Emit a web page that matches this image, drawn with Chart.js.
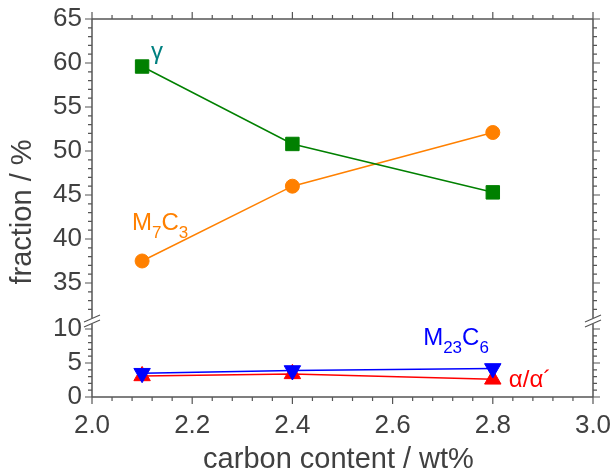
<!DOCTYPE html>
<html>
<head>
<meta charset="utf-8">
<script src="https://cdn.jsdelivr.net/npm/chart.js@4.4.1/dist/chart.umd.min.js"></script>
<style>
    html, body { margin: 0; padding: 0; background: #fff; }
    #wrap { width: 613px; height: 476px; }
</style>
</head>
<body>
<div id="wrap"><canvas id="phaseChart" width="613" height="476"></canvas></div>
<script>
// carbon content of the alloys (wt%)
const carbon = [2.1, 2.4, 2.8];

// phase fractions (%)
const gamma = [59.6, 50.8, 45.3];
const m7c3 = [37.5, 46.0, 52.1];
const m23c6 = [3.5, 3.9, 4.2];
const alpha = [3.1, 3.4, 2.6];

// tick labels
const xTicks = [2.0, 2.2, 2.4, 2.6, 2.8, 3.0];
const yTopTicks = [35, 40, 45, 50, 55, 60, 65];
const yBotTicks = [0, 5, 10];

const TEXT = '#404040';
const AXIS = '#555555';
const FONT = '"Liberation Sans", Arial, sans-serif';

function pts(values) {
    return carbon.map((c, i) => ({ x: c, y: values[i] }));
}

// draw a formula like M23C6 with subscripts, left aligned at (x, y)
function drawFormula(ctx, parts, x, y, color) {
    ctx.fillStyle = color;
    ctx.textAlign = 'left';
    ctx.textBaseline = 'alphabetic';
    parts.forEach(([txt, sub]) => {
        ctx.font = (sub ? '17px ' : '24px ') + FONT;
        ctx.fillText(txt, x, sub ? y + 8 : y);
        x += ctx.measureText(txt).width;
    });
}

// frame, outward ticks, axis break and all texts
const axisFrame = {
    id: 'axisFrame',
    afterDraw(chart) {
        const { ctx, chartArea: a, scales } = chart;
        const sx = scales.x, yt = scales.yTop, yb = scales.yBot;
        const brk = yt.bottom;

        ctx.save();
        ctx.strokeStyle = AXIS;
        ctx.lineWidth = 1.5;
        ctx.beginPath();
        ctx.moveTo(a.left, a.top); ctx.lineTo(a.right, a.top);
        ctx.moveTo(a.left, a.bottom); ctx.lineTo(a.right, a.bottom);
        [a.left, a.right].forEach(X => {
            ctx.moveTo(X, a.top); ctx.lineTo(X, brk - 3);
            ctx.moveTo(X, brk + 3); ctx.lineTo(X, a.bottom);
        });
        ctx.stroke();

        // x ticks, minor every 0.04
        ctx.lineWidth = 1.2;
        ctx.beginPath();
        for (let i = 0; i <= 25; i++) {
            const px = sx.getPixelForValue(2 + i * 0.04);
            const len = i % 5 === 0 ? 7 : 4;
            ctx.moveTo(px, a.bottom); ctx.lineTo(px, a.bottom + len);
            ctx.moveTo(px, a.top); ctx.lineTo(px, a.top - len);
        }
        // y ticks, minor every 1
        const yTick = (scale, v) => {
            const py = scale.getPixelForValue(v);
            if (Math.abs(py - brk) < 4) return;
            const len = v % 5 === 0 ? 7 : 4;
            ctx.moveTo(a.left, py); ctx.lineTo(a.left - len, py);
            ctx.moveTo(a.right, py); ctx.lineTo(a.right + len, py);
        };
        for (let v = Math.ceil(yt.min); v <= yt.max; v++) yTick(yt, v);
        for (let v = 0; v <= Math.floor(yb.max); v++) yTick(yb, v);
        ctx.stroke();

        // break marks
        ctx.lineWidth = 1.2;
        ctx.beginPath();
        [a.left, a.right].forEach(X => {
            ctx.moveTo(X - 8, brk + 1); ctx.lineTo(X + 8, brk - 6);
            ctx.moveTo(X - 8, brk + 6); ctx.lineTo(X + 8, brk - 1);
        });
        ctx.stroke();

        // tick labels
        ctx.fillStyle = TEXT;
        ctx.font = '26px ' + FONT;
        ctx.textAlign = 'right';
        ctx.textBaseline = 'middle';
        yTopTicks.forEach(v => ctx.fillText(v, a.left - 10, yt.getPixelForValue(v)));
        yBotTicks.forEach(v => ctx.fillText(v, a.left - 10, yb.getPixelForValue(v)));
        ctx.textAlign = 'center';
        ctx.textBaseline = 'alphabetic';
        xTicks.forEach(v => ctx.fillText(v.toFixed(1), sx.getPixelForValue(v), a.bottom + 36));

        // axis titles
        ctx.font = '29px ' + FONT;
        ctx.fillText('carbon content / wt%', (a.left + a.right) / 2 - 4, a.bottom + 71);
        ctx.save();
        ctx.translate(31, (a.top + a.bottom) / 2 + 4);
        ctx.rotate(-Math.PI / 2);
        ctx.fillText('fraction / %', 0, 0);
        ctx.restore();

        // phase labels
        ctx.font = '24px ' + FONT;
        ctx.textAlign = 'left';
        ctx.fillStyle = '#008080';
        ctx.fillText('γ', sx.getPixelForValue(2.118), yt.getPixelForValue(60.45));
        drawFormula(ctx, [['M', 0], ['7', 1], ['C', 0], ['3', 1]],
            sx.getPixelForValue(2.08), yt.getPixelForValue(41.0), '#FF8000');
        drawFormula(ctx, [['M', 0], ['23', 1], ['C', 0], ['6', 1]],
            sx.getPixelForValue(2.661), yb.getPixelForValue(7.65), '#0000FF');
        ctx.font = '24px ' + FONT;
        ctx.fillStyle = '#FF0000';
        ctx.fillText('α/α´', sx.getPixelForValue(2.832), yb.getPixelForValue(1.47));
        ctx.restore();
    }
};

function initPhaseChart() {
    const ctx = document.getElementById('phaseChart').getContext('2d');
    const series = (label, values, color, style, axis, radius, rotation) => ({
        label: label,
        data: pts(values),
        yAxisID: axis,
        borderColor: color,
        backgroundColor: color,
        borderWidth: 1.5,
        pointStyle: style,
        pointRadius: radius,
        pointRotation: rotation || 0,
        pointBorderWidth: 1,
        pointBorderColor: color,
        pointBackgroundColor: color,
        clip: false
    });
    new Chart(ctx, {
        type: 'line',
        data: {
            datasets: [
                series('γ', gamma, '#008000', 'rect', 'yTop', 9.5),
                series('M7C3', m7c3, '#FF8000', 'circle', 'yTop', 7),
                series('M23C6', m23c6, '#0000FF', 'triangle', 'yBot', 9.5, 180),
                series('α/α´', alpha, '#FF0000', 'triangle', 'yBot', 9.5)
            ]
        },
        options: {
            responsive: false,
            animation: false,
            devicePixelRatio: 1,
            layout: { padding: { left: 0, right: 20, top: 19, bottom: 0 } },
            plugins: {
                legend: { display: false },
                tooltip: { enabled: false }
            },
            scales: {
                x: {
                    type: 'linear',
                    position: 'bottom',
                    min: 2.0,
                    max: 3.0,
                    grid: { display: false, drawTicks: false },
                    border: { display: false },
                    ticks: { display: false },
                    afterFit: s => { s.height = 79; }
                },
                // the lower axis is listed first so that it ends up at the bottom of the stack
                yBot: {
                    type: 'linear',
                    position: 'left',
                    stack: 'frac',
                    stackWeight: 76,
                    min: 0,
                    max: 11.18,
                    grid: { display: false, drawTicks: false },
                    border: { display: false },
                    ticks: { display: false },
                    afterFit: s => { s.width = 92; }
                },
                yTop: {
                    type: 'linear',
                    position: 'left',
                    stack: 'frac',
                    stackWeight: 302,
                    min: 30.68,
                    max: 65,
                    grid: { display: false, drawTicks: false },
                    border: { display: false },
                    ticks: { display: false },
                    afterFit: s => { s.width = 92; }
                }
            }
        },
        plugins: [axisFrame]
    });
}

document.addEventListener('DOMContentLoaded', () => {
    initPhaseChart();
});
</script>
</body>
</html>
